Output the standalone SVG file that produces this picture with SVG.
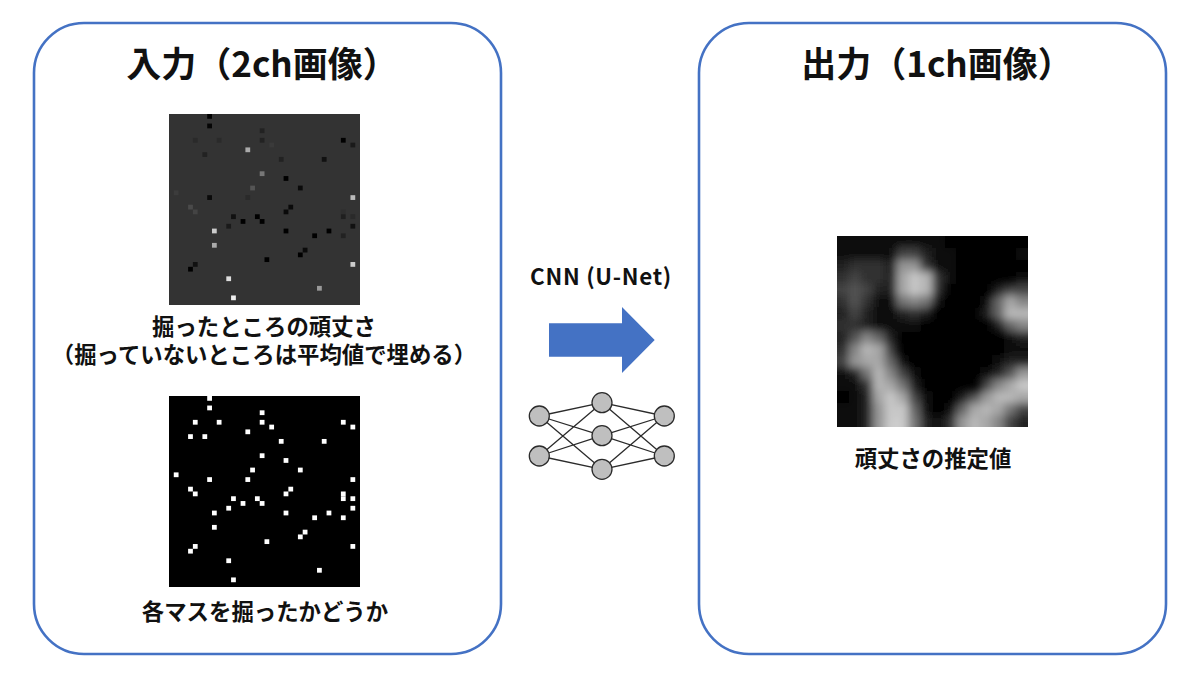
<svg xmlns="http://www.w3.org/2000/svg" width="1200" height="674" viewBox="0 0 1200 674">
<style>
text{font-family:"Noto Sans CJK JP","Noto Sans CJK SC",sans-serif;font-weight:700;fill:#111;text-anchor:middle}
.title{font-size:35px}
.cap{font-size:22.4px}
.panel{fill:#fff;stroke:#4472C4;stroke-width:2.6}
.nn{fill:#bfbfbf;stroke:#2b2b2b;stroke-width:1.3}
.ln{stroke:#2b2b2b;stroke-width:1.3;fill:none}
.w rect{fill:#fff}
</style>
<defs>
<filter id="b" x="-30%" y="-30%" width="160%" height="160%"><feGaussianBlur stdDeviation="4.2"/></filter>
<clipPath id="oc"><rect x="837" y="236" width="191" height="191"/></clipPath>
</defs>
<rect width="1200" height="674" fill="#fff"/>
<g id="input-panel">
<rect class="panel" x="34" y="23" width="467" height="631" rx="50"/>
<text class="title" x="262" y="77">入力（2ch画像）</text>
</g>
<g id="output-panel">
<rect class="panel" x="699" y="23" width="467" height="631" rx="50"/>
<text class="title" x="937" y="77">出力（1ch画像）</text>
</g>
<g id="input-values">
<rect x="169" y="114" width="191" height="191" fill="#333"/>
<g transform="translate(169 114) scale(4.775)">
<rect x="8" y="0" width="1" height="1" fill="#000"/><rect x="8" y="2" width="1" height="1" fill="#050505"/><rect x="19" y="3" width="1" height="1" fill="#222"/><rect x="5" y="5" width="1" height="1" fill="#2a2a2a"/><rect x="10" y="5" width="1" height="1" fill="#2a2a2a"/><rect x="19" y="5" width="1" height="1" fill="#222"/><rect x="21" y="6" width="1" height="1" fill="#3a3a3a"/><rect x="36" y="5" width="1" height="1" fill="#000"/><rect x="38" y="6" width="1" height="1" fill="#1a1a1a"/><rect x="16" y="7" width="1" height="1" fill="#aaa"/><rect x="7" y="8" width="1" height="1" fill="#222"/><rect x="23" y="9" width="1" height="1" fill="#222"/><rect x="32" y="9" width="1" height="1" fill="#111"/><rect x="19" y="12" width="1" height="1" fill="#777"/><rect x="24" y="13" width="1" height="1" fill="#000"/><rect x="17" y="15" width="1" height="1" fill="#555"/><rect x="27" y="15" width="1" height="1" fill="#0a0a0a"/><rect x="1" y="16" width="1" height="1" fill="#3c3c3c"/><rect x="8" y="17" width="1" height="1" fill="#0a0a0a"/><rect x="16" y="17" width="1" height="1" fill="#2a2a2a"/><rect x="38" y="17" width="1" height="1" fill="#bbb"/><rect x="4" y="19" width="1" height="1" fill="#4a4a4a"/><rect x="25" y="19" width="1" height="1" fill="#0a0a0a"/><rect x="5" y="20" width="1" height="1" fill="#444"/><rect x="24" y="20" width="1" height="1" fill="#0a0a0a"/><rect x="36" y="20" width="1" height="1" fill="#2e2e2e"/><rect x="36" y="21" width="1" height="1" fill="#1f1f1f"/><rect x="13" y="21" width="1" height="1" fill="#111"/><rect x="18" y="21" width="1" height="1" fill="#000"/><rect x="38" y="21" width="1" height="1" fill="#2a2a2a"/><rect x="15" y="22" width="1" height="1" fill="#000"/><rect x="19" y="22" width="1" height="1" fill="#000"/><rect x="12" y="23" width="1" height="1" fill="#1a1a1a"/><rect x="38" y="23" width="1" height="1" fill="#111"/><rect x="9" y="24" width="1" height="1" fill="#ccc"/><rect x="24" y="24" width="1" height="1" fill="#000"/><rect x="33" y="24" width="1" height="1" fill="#000"/><rect x="30" y="25" width="1" height="1" fill="#000"/><rect x="36" y="25" width="1" height="1" fill="#222"/><rect x="9" y="27" width="1" height="1" fill="#aaa"/><rect x="28" y="28" width="1" height="1" fill="#0a0a0a"/><rect x="27" y="29" width="1" height="1" fill="#000"/><rect x="20" y="30" width="1" height="1" fill="#000"/><rect x="5" y="31" width="1" height="1" fill="#111"/><rect x="38" y="31" width="1" height="1" fill="#ccc"/><rect x="4" y="32" width="1" height="1" fill="#000"/><rect x="12" y="34" width="1" height="1" fill="#ddd"/><rect x="31" y="36" width="1" height="1" fill="#999"/><rect x="13" y="38" width="1" height="1" fill="#eee"/>
</g>
<text class="cap"><tspan x="264" y="335">掘ったところの頑丈さ</tspan><tspan x="264" y="363">（掘っていないところは平均値で埋める）</tspan></text>
</g>
<g id="input-mask">
<rect x="169" y="396" width="191" height="191" fill="#000"/>
<g class="w" transform="translate(169 396) scale(4.775)">
<rect x="8" y="0" width="1" height="1"/><rect x="8" y="2" width="1" height="1"/><rect x="19" y="3" width="1" height="1"/><rect x="5" y="5" width="1" height="1"/><rect x="10" y="5" width="1" height="1"/><rect x="19" y="5" width="1" height="1"/><rect x="21" y="6" width="1" height="1"/><rect x="36" y="5" width="1" height="1"/><rect x="38" y="6" width="1" height="1"/><rect x="16" y="7" width="1" height="1"/><rect x="4" y="8" width="1" height="1"/><rect x="7" y="8" width="1" height="1"/><rect x="23" y="9" width="1" height="1"/><rect x="32" y="9" width="1" height="1"/><rect x="19" y="12" width="1" height="1"/><rect x="24" y="13" width="1" height="1"/><rect x="17" y="15" width="1" height="1"/><rect x="27" y="15" width="1" height="1"/><rect x="1" y="16" width="1" height="1"/><rect x="8" y="17" width="1" height="1"/><rect x="16" y="17" width="1" height="1"/><rect x="38" y="17" width="1" height="1"/><rect x="4" y="19" width="1" height="1"/><rect x="25" y="19" width="1" height="1"/><rect x="5" y="20" width="1" height="1"/><rect x="24" y="20" width="1" height="1"/><rect x="36" y="20" width="1" height="1"/><rect x="36" y="21" width="1" height="1"/><rect x="13" y="21" width="1" height="1"/><rect x="18" y="21" width="1" height="1"/><rect x="38" y="21" width="1" height="1"/><rect x="15" y="22" width="1" height="1"/><rect x="19" y="22" width="1" height="1"/><rect x="12" y="23" width="1" height="1"/><rect x="38" y="23" width="1" height="1"/><rect x="9" y="24" width="1" height="1"/><rect x="24" y="24" width="1" height="1"/><rect x="33" y="24" width="1" height="1"/><rect x="30" y="25" width="1" height="1"/><rect x="36" y="25" width="1" height="1"/><rect x="9" y="27" width="1" height="1"/><rect x="28" y="28" width="1" height="1"/><rect x="27" y="29" width="1" height="1"/><rect x="20" y="30" width="1" height="1"/><rect x="5" y="31" width="1" height="1"/><rect x="38" y="31" width="1" height="1"/><rect x="4" y="32" width="1" height="1"/><rect x="12" y="34" width="1" height="1"/><rect x="31" y="36" width="1" height="1"/><rect x="13" y="38" width="1" height="1"/>
</g>
<text class="cap" x="265" y="620">各マスを掘ったかどうか</text>
</g>
<g id="output-image">
<rect x="837" y="236" width="191" height="191" fill="#000"/>
<g clip-path="url(#oc)"><g filter="url(#b)"><g transform="translate(837 236) scale(11.94)">
<rect x="-2" y="-2" width="11" height="3" fill="#111"/>
<rect x="-2" y="1" width="7" height="1" fill="#111"/><rect x="5" y="1" width="1" height="1" fill="#444"/><rect x="6" y="1" width="1" height="1" fill="#444"/><rect x="7" y="1" width="1" height="1" fill="#222"/><rect x="8" y="1" width="2" height="1" fill="#111"/><rect x="15" y="1" width="3" height="1" fill="#111"/>
<rect x="-2" y="2" width="3" height="1" fill="#222"/><rect x="1" y="2" width="3" height="1" fill="#333"/><rect x="4" y="2" width="1" height="1" fill="#222"/><rect x="5" y="2" width="1" height="1" fill="#999"/><rect x="6" y="2" width="1" height="1" fill="#999"/><rect x="7" y="2" width="1" height="1" fill="#333"/><rect x="8" y="2" width="2" height="1" fill="#111"/>
<rect x="-2" y="3" width="3" height="1" fill="#333"/><rect x="1" y="3" width="1" height="1" fill="#444"/><rect x="2" y="3" width="2" height="1" fill="#333"/><rect x="4" y="3" width="1" height="1" fill="#222"/><rect x="5" y="3" width="1" height="1" fill="#aaa"/><rect x="6" y="3" width="1" height="1" fill="#ccc"/><rect x="7" y="3" width="1" height="1" fill="#bbb"/><rect x="8" y="3" width="1" height="1" fill="#333"/><rect x="9" y="3" width="1" height="1" fill="#111"/><rect x="15" y="3" width="3" height="1" fill="#111"/>
<rect x="-2" y="4" width="3" height="1" fill="#444"/><rect x="1" y="4" width="1" height="1" fill="#555"/><rect x="2" y="4" width="1" height="1" fill="#444"/><rect x="3" y="4" width="2" height="1" fill="#222"/><rect x="5" y="4" width="1" height="1" fill="#aaa"/><rect x="6" y="4" width="1" height="1" fill="#ccc"/><rect x="7" y="4" width="1" height="1" fill="#bbb"/><rect x="8" y="4" width="1" height="1" fill="#333"/><rect x="13" y="4" width="1" height="1" fill="#222"/><rect x="14" y="4" width="4" height="1" fill="#444"/>
<rect x="-2" y="5" width="3" height="1" fill="#333"/><rect x="1" y="5" width="1" height="1" fill="#555"/><rect x="2" y="5" width="1" height="1" fill="#333"/><rect x="3" y="5" width="2" height="1" fill="#111"/><rect x="5" y="5" width="1" height="1" fill="#777"/><rect x="6" y="5" width="1" height="1" fill="#888"/><rect x="7" y="5" width="1" height="1" fill="#777"/><rect x="8" y="5" width="1" height="1" fill="#111"/><rect x="12" y="5" width="1" height="1" fill="#111"/><rect x="13" y="5" width="1" height="1" fill="#666"/><rect x="14" y="5" width="1" height="1" fill="#aaa"/><rect x="15" y="5" width="3" height="1" fill="#888"/>
<rect x="-2" y="6" width="3" height="1" fill="#222"/><rect x="1" y="6" width="1" height="1" fill="#444"/><rect x="2" y="6" width="1" height="1" fill="#222"/><rect x="3" y="6" width="2" height="1" fill="#111"/><rect x="5" y="6" width="1" height="1" fill="#222"/><rect x="6" y="6" width="1" height="1" fill="#333"/><rect x="7" y="6" width="1" height="1" fill="#222"/><rect x="12" y="6" width="1" height="1" fill="#222"/><rect x="13" y="6" width="1" height="1" fill="#666"/><rect x="14" y="6" width="4" height="1" fill="#bbb"/>
<rect x="-2" y="7" width="4" height="1" fill="#333"/><rect x="2" y="7" width="1" height="1" fill="#222"/><rect x="3" y="7" width="4" height="1" fill="#111"/><rect x="13" y="7" width="1" height="1" fill="#222"/><rect x="14" y="7" width="1" height="1" fill="#666"/><rect x="15" y="7" width="3" height="1" fill="#888"/>
<rect x="-2" y="8" width="3" height="1" fill="#222"/><rect x="1" y="8" width="1" height="1" fill="#555"/><rect x="2" y="8" width="1" height="1" fill="#888"/><rect x="3" y="8" width="1" height="1" fill="#666"/><rect x="4" y="8" width="1" height="1" fill="#222"/><rect x="14" y="8" width="1" height="1" fill="#111"/><rect x="15" y="8" width="3" height="1" fill="#222"/>
<rect x="-2" y="9" width="3" height="1" fill="#333"/><rect x="1" y="9" width="1" height="1" fill="#888"/><rect x="2" y="9" width="1" height="1" fill="#bbb"/><rect x="3" y="9" width="1" height="1" fill="#aaa"/><rect x="4" y="9" width="1" height="1" fill="#444"/><rect x="14" y="9" width="4" height="1" fill="#111"/>
<rect x="-2" y="10" width="3" height="1" fill="#444"/><rect x="1" y="10" width="1" height="1" fill="#999"/><rect x="2" y="10" width="2" height="1" fill="#aaa"/><rect x="4" y="10" width="1" height="1" fill="#666"/><rect x="5" y="10" width="1" height="1" fill="#111"/><rect x="13" y="10" width="1" height="1" fill="#111"/><rect x="14" y="10" width="4" height="1" fill="#222"/>
<rect x="-2" y="11" width="3" height="1" fill="#111"/><rect x="1" y="11" width="1" height="1" fill="#222"/><rect x="2" y="11" width="1" height="1" fill="#777"/><rect x="3" y="11" width="1" height="1" fill="#bbb"/><rect x="4" y="11" width="1" height="1" fill="#888"/><rect x="5" y="11" width="1" height="1" fill="#444"/><rect x="6" y="11" width="1" height="1" fill="#111"/><rect x="12" y="11" width="1" height="1" fill="#111"/><rect x="13" y="11" width="1" height="1" fill="#222"/><rect x="14" y="11" width="1" height="1" fill="#555"/><rect x="15" y="11" width="3" height="1" fill="#999"/>
<rect x="-2" y="12" width="4" height="1" fill="#111"/><rect x="2" y="12" width="1" height="1" fill="#333"/><rect x="3" y="12" width="1" height="1" fill="#bbb"/><rect x="4" y="12" width="1" height="1" fill="#aaa"/><rect x="5" y="12" width="1" height="1" fill="#777"/><rect x="6" y="12" width="1" height="1" fill="#222"/><rect x="12" y="12" width="1" height="1" fill="#444"/><rect x="13" y="12" width="1" height="1" fill="#888"/><rect x="14" y="12" width="1" height="1" fill="#aaa"/><rect x="15" y="12" width="3" height="1" fill="#ccc"/>
<rect x="1" y="13" width="1" height="1" fill="#111"/><rect x="2" y="13" width="1" height="1" fill="#222"/><rect x="3" y="13" width="1" height="1" fill="#aaa"/><rect x="4" y="13" width="1" height="1" fill="#ccc"/><rect x="5" y="13" width="1" height="1" fill="#aaa"/><rect x="6" y="13" width="1" height="1" fill="#444"/><rect x="7" y="13" width="1" height="1" fill="#111"/><rect x="10" y="13" width="1" height="1" fill="#222"/><rect x="11" y="13" width="1" height="1" fill="#555"/><rect x="12" y="13" width="1" height="1" fill="#999"/><rect x="13" y="13" width="2" height="1" fill="#bbb"/><rect x="15" y="13" width="3" height="1" fill="#aaa"/>
<rect x="-2" y="14" width="4" height="1" fill="#111"/><rect x="2" y="14" width="1" height="1" fill="#222"/><rect x="3" y="14" width="1" height="1" fill="#999"/><rect x="4" y="14" width="1" height="1" fill="#ccc"/><rect x="5" y="14" width="1" height="1" fill="#ccc"/><rect x="6" y="14" width="1" height="1" fill="#666"/><rect x="7" y="14" width="1" height="1" fill="#111"/><rect x="9" y="14" width="1" height="1" fill="#111"/><rect x="10" y="14" width="1" height="1" fill="#666"/><rect x="11" y="14" width="1" height="1" fill="#aaa"/><rect x="12" y="14" width="1" height="1" fill="#bbb"/><rect x="13" y="14" width="1" height="1" fill="#aaa"/><rect x="14" y="14" width="1" height="1" fill="#777"/><rect x="15" y="14" width="3" height="1" fill="#444"/>
<rect x="-2" y="15" width="4" height="3" fill="#111"/><rect x="2" y="15" width="1" height="3" fill="#222"/><rect x="3" y="15" width="1" height="3" fill="#999"/><rect x="4" y="15" width="2" height="3" fill="#ccc"/><rect x="6" y="15" width="1" height="3" fill="#777"/><rect x="7" y="15" width="1" height="3" fill="#222"/><rect x="8" y="15" width="1" height="3" fill="#111"/><rect x="9" y="15" width="1" height="3" fill="#333"/><rect x="10" y="15" width="1" height="3" fill="#999"/><rect x="11" y="15" width="1" height="3" fill="#bbb"/><rect x="12" y="15" width="1" height="3" fill="#aaa"/><rect x="13" y="15" width="1" height="3" fill="#888"/><rect x="14" y="15" width="1" height="3" fill="#444"/><rect x="15" y="15" width="3" height="3" fill="#222"/>
</g></g></g>
<text class="cap" x="933" y="467">頑丈さの推定値</text>
</g>
<g id="cnn-label"><text x="601" y="285" style="font-size:22.4px;letter-spacing:.7px">CNN (U-Net)</text></g>
<g id="cnn-arrow"><path d="M549 323.3H622V307L654.7 340L622 373V356.7H549Z" fill="#4472C4"/></g>
<g id="connectors">
<path class="ln" d="M539.3 416L602 402.7M539.3 416L602 435.7M539.3 416L602 469.3M539.3 456L602 402.7M539.3 456L602 435.7M539.3 456L602 469.3M602 402.7L664.3 416M602 402.7L664.3 456M602 435.7L664.3 416M602 435.7L664.3 456M602 469.3L664.3 416M602 469.3L664.3 456"/>
</g>
<g id="network">
<circle class="nn" cx="539.3" cy="416" r="10"/><circle class="nn" cx="539.3" cy="456" r="10"/>
<circle class="nn" cx="602" cy="402.7" r="10"/><circle class="nn" cx="602" cy="435.7" r="10"/><circle class="nn" cx="602" cy="469.3" r="10"/>
<circle class="nn" cx="664.3" cy="416" r="10"/><circle class="nn" cx="664.3" cy="456" r="10"/>
</g>
</svg>
